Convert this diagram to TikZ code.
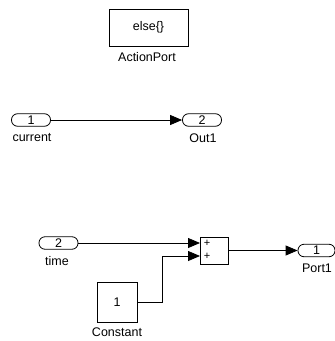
\documentclass[tikz,border=0pt]{standalone}
\usepackage{fontspec}
\setmainfont{Liberation Sans}
\usetikzlibrary{arrows.meta}
\begin{document}
\begin{tikzpicture}[x=1pt,y=-1pt,
  every node/.style={font=\fontsize{12.5}{14}\selectfont, inner sep=0pt},
  blk/.style={draw, line width=0.8pt, rectangle},
  port/.style={draw, line width=0.8pt, rounded corners=6pt, minimum width=39pt, minimum height=12.5pt},
  lbl/.style={},
  sgn/.style={font=\fontsize{11}{12}\selectfont},
  wire/.style={line width=0.8pt, draw},
  arr/.style={wire, -{Triangle[length=12pt,width=10pt]}}
]
\useasboundingbox (0,0) rectangle (335,341);
% ActionPort block
\node[blk, minimum width=79pt, minimum height=37pt] (act) at (148.5,27.5) {else\{\}};
\node[lbl] (actl) at (147,57) {ActionPort};
% current -> Out1
\node[port] (cur) at (31,120) {1};
\node[lbl] (curl) at (32,138) {current};
\node[port] (out1) at (202,120) {2};
\node[lbl] (out1l) at (203,138) {Out1};
\draw[arr] (cur.east) -- (out1.west);
% time, constant, sum, Port1
\node[port] (time) at (58.5,243) {2};
\node[lbl] (timel) at (57,261) {time};
\node[blk, minimum width=28pt, minimum height=27pt] (sum) at (214,250.5) {};
\node[sgn] (p1) at (207,243) {+};
\node[sgn] (p2) at (207,256) {+};
\coordinate (in1) at (200,243);
\coordinate (in2) at (200,256);
\node[blk, minimum width=40pt, minimum height=40pt] (const) at (117,302) {1};
\node[lbl] (constl) at (117,332) {Constant};
\coordinate (bend) at (162,256);
\node[port, minimum width=37pt] (port1) at (316.5,250.5) {1};
\node[lbl] (port1l) at (317,268) {Port1};
\draw[arr] (time.east) -- (in1);
\draw[wire] (const.east) -| (bend);
\draw[arr] (bend) -- (in2);
\draw[arr] (sum.east) -- (port1.west);
\end{tikzpicture}
\end{document}
